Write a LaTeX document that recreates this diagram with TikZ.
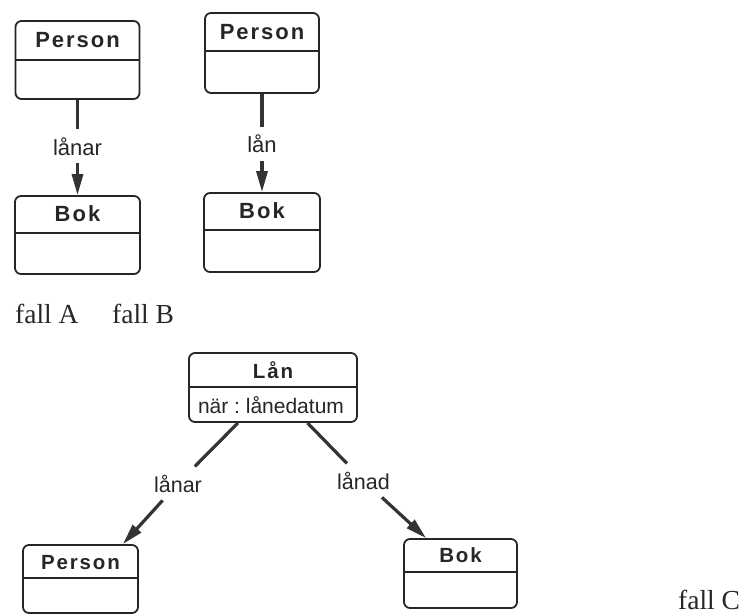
\documentclass[tikz,border=0pt]{standalone}
\usepackage{fontspec}
\setmainfont{Liberation Serif}
\newfontfamily\labelfont{Liberation Sans}
\newfontfamily\titlefont{Liberation Sans}[LetterSpace=9]
\usetikzlibrary{arrows.meta,calc}
\frenchspacing

\begin{document}
\begin{tikzpicture}[x=1pt,y=1pt,
  classbox/.style={draw=black!85, line width=1.8pt, rounded corners=6pt, inner sep=0pt},
  classtitle/.style={font=\titlefont\bfseries\fontsize{22}{25}\selectfont, text=black!85, inner sep=0pt},
  classtitlesm/.style={classtitle, font=\titlefont\bfseries\fontsize{20.5}{23}\selectfont},
  attrtext/.style={font=\labelfont\fontsize{21}{24}\selectfont, text=black!85, inner sep=0pt, anchor=base},
  divider/.style={draw=black!85, line width=2.2pt},
  rolelabel/.style={font=\labelfont\fontsize{22}{26}\selectfont, text=black!85, inner sep=8pt, anchor=base},
  rolelabelsm/.style={rolelabel, font=\labelfont\fontsize{21.5}{25}\selectfont},
  assoc/.style={draw=black!80, line width=3.2pt},
  assocarrow/.style={assoc, -{Triangle[length=21pt,width=11pt]}},
  caption/.style={font=\fontsize{27.5}{30}\selectfont, text=black!85, anchor=base west, inner sep=0pt}
]
\useasboundingbox (0,0) rectangle (744,-615);

% ---------- case A ----------
\node[classbox, minimum width=124pt, minimum height=78pt] (pA) at (77.5,-60) {};
\draw[divider] ($(pA.north west)+(0,-40)$) -- ($(pA.north east)+(0,-40)$);
\node[classtitle] (pAt) at ($(pA.north)+(0,-20)$) {Person};

\node[classbox, minimum width=125pt, minimum height=78pt] (bA) at (77.5,-235) {};
\draw[divider] ($(bA.north west)+(0,-38)$) -- ($(bA.north east)+(0,-38)$);
\node[classtitle] (bAt) at ($(bA.north)+(0,-19)$) {Bok};

\node[rolelabel] (lA) at (77.5,-155) {lånar};
\draw[assoc] (pA) -- (lA);
\draw[assocarrow] (lA) -- (bA);

% ---------- case B ----------
\node[classbox, minimum width=114pt, minimum height=80pt] (pB) at (262,-53) {};
\draw[divider] ($(pB.north west)+(0,-39)$) -- ($(pB.north east)+(0,-39)$);
\node[classtitle] (pBt) at ($(pB.north)+(0,-20)$) {Person};

\node[classbox, minimum width=116pt, minimum height=79pt] (bB) at (262,-232.5) {};
\draw[divider] ($(bB.north west)+(0,-38)$) -- ($(bB.north east)+(0,-38)$);
\node[classtitle] (bBt) at ($(bB.north)+(0,-19)$) {Bok};

\node[rolelabel] (lB) at (262,-153) {lån};
\draw[assoc] (pB) -- (lB);
\draw[assocarrow] (lB) -- (bB);

\node[caption] (capA) at (15,-323) {fall A};
\node[caption] (capB) at (112,-323) {fall B};

% ---------- case C ----------
\node[classbox, minimum width=168pt, minimum height=69pt] (lan) at (273,-387.5) {};
\draw[divider] ($(lan.north west)+(0,-35)$) -- ($(lan.north east)+(0,-35)$);
\node[classtitlesm] (lant) at ($(lan.north)+(0,-18)$) {Lån};
\node[attrtext] (lana) at (271,-413) {när : lånedatum};

\node[classbox, minimum width=115pt, minimum height=68pt] (pC) at (80.5,-579) {};
\draw[divider] ($(pC.north west)+(0,-34)$) -- ($(pC.north east)+(0,-34)$);
\node[classtitlesm] (pCt) at ($(pC.north)+(0,-18)$) {Person};

\node[classbox, minimum width=113pt, minimum height=69pt] (bC) at (460.5,-573.5) {};
\draw[divider] ($(bC.north west)+(0,-34)$) -- ($(bC.north east)+(0,-34)$);
\node[classtitlesm] (bCt) at ($(bC.north)+(0,-17)$) {Bok};

\node[rolelabelsm] (lC1) at (178,-492) {lånar};
\node[rolelabelsm] (lC2) at (363.5,-489) {lånad};
\draw[assoc] (lan) -- (lC1);
\draw[assocarrow] (lC1) -- ([xshift=-16pt]pC.north east);
\draw[assoc] (lan) -- (lC2);
\draw[assocarrow] (lC2) -- ([xshift=23pt]bC.north west);

\node[caption] (capC) at (678,-609) {fall C};
\end{tikzpicture}
\end{document}
